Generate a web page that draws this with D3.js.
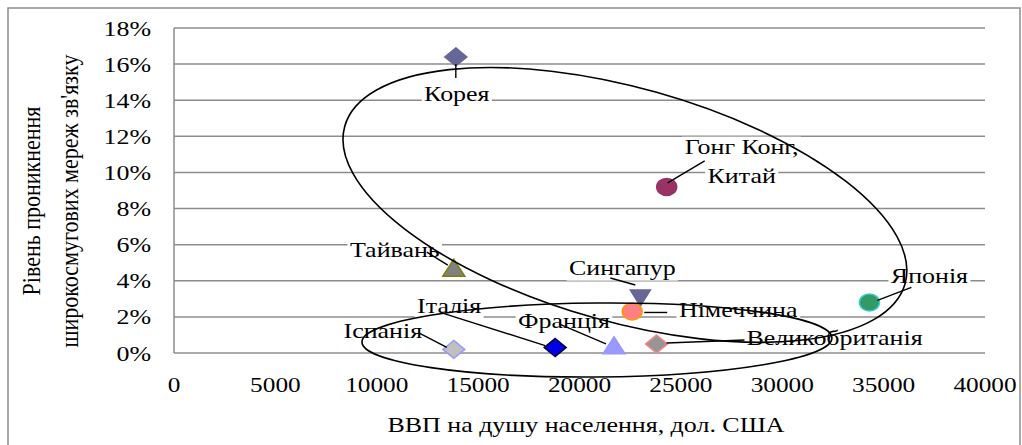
<!DOCTYPE html>
<html>
<head>
<meta charset="utf-8">
<script src="https://cdn.jsdelivr.net/npm/d3@7"></script>
<style>
  html, body { margin: 0; padding: 0; background: #fff; }
  svg { display: block; }
  text { font-family: "Liberation Serif", "Times New Roman", serif; fill: #000; }
</style>
</head>
<body>
<svg id="chart" width="1022" height="445"></svg>
<script>
// Broadband penetration vs GDP per capita
const countries = ["Корея", "Гонг Конг, Китай", "Тайвань", "Сингапур", "Німеччина",
                   "Японія", "Іспанія", "Італія", "Франція", "Великобританія"];
const gdpPerCapita = [13900, 24300, 13800, 23000, 22600, 34300, 13800, 18800, 21700, 23800];
const penetration  = [0.164, 0.092, 0.047, 0.031, 0.023, 0.028, 0.002, 0.003, 0.004, 0.005];

const xTicks = [0, 5000, 10000, 15000, 20000, 25000, 30000, 35000, 40000];
const yTicks = [0, 0.02, 0.04, 0.06, 0.08, 0.10, 0.12, 0.14, 0.16, 0.18];

const xTitle = "ВВП на душу населення, дол. США";
const yTitle = ["Рівень проникнення", "широкосмугових мереж зв'язку"];

// marker look per country
const markerStyle = [
  { shape: "diamond",  fill: "#666699", stroke: "#666699" },
  { shape: "circle",   fill: "#993366", stroke: "#993366" },
  { shape: "triangle", fill: "#808080", stroke: "#808000" },
  { shape: "triDown",  fill: "#666699", stroke: "#666699" },
  { shape: "circle",   fill: "#FF8080", stroke: "#FF9900" },
  { shape: "circle",   fill: "#339966", stroke: "#33CCCC" },
  { shape: "diamond",  fill: "#C0C0C0", stroke: "#9999FF" },
  { shape: "diamond",  fill: "#0000E6", stroke: "#000040" },
  { shape: "triangle", fill: "#9999FF", stroke: "#9999FF" },
  { shape: "diamond",  fill: "#969696", stroke: "#FF8080" }
];

// label placement relative to each marker: text centre/baseline offsets and leader line
const labelLayout = [
  { dx: 1,    dy: [44],      line: [0, 7, 0, 21] },
  { dx: 75,   dy: [-33, -4], line: [1, -4, 38, -26] },
  { dx: -59,  dy: [-11],     line: [-27, -16, -6, -3] },
  { dx: -18,  dy: [-22],     line: [-30, -19, -5, -12] },
  { dx: 106,  dy: [6],       line: [12, 1, 35, 1] },
  { dx: 60,   dy: [-19],     line: [8, -2, 42, -15] },
  { dx: -71,  dy: [-11],     line: [-34, -16, -7, -2] },
  { dx: -106, dy: [-35],     line: [-111, -34, -10, -2] },
  { dx: -50,  dy: [-18],     line: [-55, -22, -8, -2] },
  { dx: 178,  dy: [1],       line: [10, -1, 88, -4] }
];
const labelLines = [["Корея"], ["Гонг Конг,", "Китай"], ["Тайвань"], ["Сингапур"], ["Німеччина"],
                    ["Японія"], ["Іспанія"], ["Італія"], ["Франція"], ["Великобританія"]];

// grouping ellipses: centre in data units, radii in pixels, rotation in degrees
const groups = [
  { cx: 22240, cy: 0.082,  rx: 291, ry: 117, rot: 15.7 },
  { cx: 20860, cy: 0.0072, rx: 235, ry: 37,  rot: -0.5 }
];

const STRETCH = 1.18;   // horizontal stretch applied to lettering
const FS = 22;

const svg = d3.select("#chart");
const plot = { left: 174, right: 985, top: 28, bottom: 353 };

const x = d3.scaleLinear().domain([0, 40000]).range([plot.left, plot.right]);
const y = d3.scaleLinear().domain([0, 0.18]).range([plot.bottom, plot.top]);

// outer chart frame
svg.append("rect")
  .attr("x", 8).attr("y", 8).attr("width", 1012).attr("height", 450)
  .attr("fill", "none").attr("stroke", "#8c8c8c").attr("stroke-width", 1.5);

// horizontal gridlines
svg.append("g")
  .selectAll("line").data(yTicks).join("line")
  .attr("x1", plot.left).attr("x2", plot.right)
  .attr("y1", d => y(d)).attr("y2", d => y(d))
  .attr("stroke", "#8c8c8c").attr("stroke-width", 1.5);

// vertical axis line
svg.append("line")
  .attr("x1", plot.left).attr("x2", plot.left)
  .attr("y1", plot.top).attr("y2", plot.bottom)
  .attr("stroke", "#8c8c8c").attr("stroke-width", 1.5);

function stretchedText(g, tx, ty, str, anchor, size, sx) {
  return g.append("text")
    .attr("transform", `translate(${tx},${ty}) scale(${sx || STRETCH},1)`)
    .attr("text-anchor", anchor)
    .attr("font-size", size)
    .text(str);
}

// y tick labels
const yAxisG = svg.append("g");
yTicks.forEach(t => {
  stretchedText(yAxisG, 151, y(t) + 7.5, d3.format(".0%")(t), "end", FS);
});

// x tick labels
const xAxisG = svg.append("g");
xTicks.forEach(t => {
  stretchedText(xAxisG, x(t), 392, String(t), "middle", FS, 1.15);
});

// axis titles
stretchedText(svg, 586, 432, xTitle, "middle", FS, 1.18);
const yt = svg.append("g").attr("transform", "translate(0,201) rotate(-90)");
yt.append("text").attr("x", 0).attr("y", 34).attr("text-anchor", "middle").attr("font-size", FS)
  .attr("transform", "scale(1,1.18)").text(yTitle[0]);
yt.append("text").attr("x", 0).attr("y", 66.5).attr("text-anchor", "middle").attr("font-size", FS)
  .attr("transform", "scale(1,1.18)").text(yTitle[1]);

// markers
const shapes = {
  diamond:  "M0,-9L11,0L0,9L-11,0Z",
  triangle: "M0,-9L11,8L-11,8Z",
  triDown:  "M-10,-7L10,-7L0,9Z"
};
const pts = countries.map((c, i) => ({ i, px: x(gdpPerCapita[i]), py: y(penetration[i]) }));
const markG = svg.append("g");
pts.forEach(p => {
  const s = markerStyle[p.i];
  if (s.shape === "circle") {
    markG.append("ellipse").attr("cx", p.px).attr("cy", p.py).attr("rx", 10).attr("ry", 8.5)
      .attr("fill", s.fill).attr("stroke", s.stroke).attr("stroke-width", 1.5);
  } else {
    markG.append("path").attr("d", shapes[s.shape])
      .attr("transform", `translate(${p.px},${p.py})`)
      .attr("fill", s.fill).attr("stroke", s.stroke).attr("stroke-width", 1.5);
  }
});

// data labels with white backing
const labG = svg.append("g");
pts.forEach(p => {
  const L = labelLayout[p.i];
  labelLines[p.i].forEach((ln, k) => {
    const t = stretchedText(labG, p.px + L.dx, p.py + L.dy[k], ln, "middle", FS);
    const bb = t.node().getBBox();
    labG.insert("rect", () => t.node())
      .attr("transform", `translate(${p.px + L.dx},${p.py + L.dy[k]}) scale(${STRETCH},1)`)
      .attr("x", bb.x - 2).attr("y", bb.y + 2).attr("width", bb.width + 4).attr("height", bb.height - 1)
      .attr("fill", "#fff");
  });
});

// leader lines
const leadG = svg.append("g");
pts.forEach(p => {
  const l = labelLayout[p.i].line;
  leadG.append("line")
    .attr("x1", p.px + l[0]).attr("y1", p.py + l[1])
    .attr("x2", p.px + l[2]).attr("y2", p.py + l[3])
    .attr("stroke", "#000").attr("stroke-width", 1.4);
});

// grouping ellipses drawn on top
svg.append("g").selectAll("ellipse").data(groups).join("ellipse")
  .attr("transform", d => `translate(${x(d.cx)},${y(d.cy)}) rotate(${d.rot})`)
  .attr("rx", d => d.rx).attr("ry", d => d.ry)
  .attr("fill", "none").attr("stroke", "#000").attr("stroke-width", 1.6);
</script>
</body>
</html>
